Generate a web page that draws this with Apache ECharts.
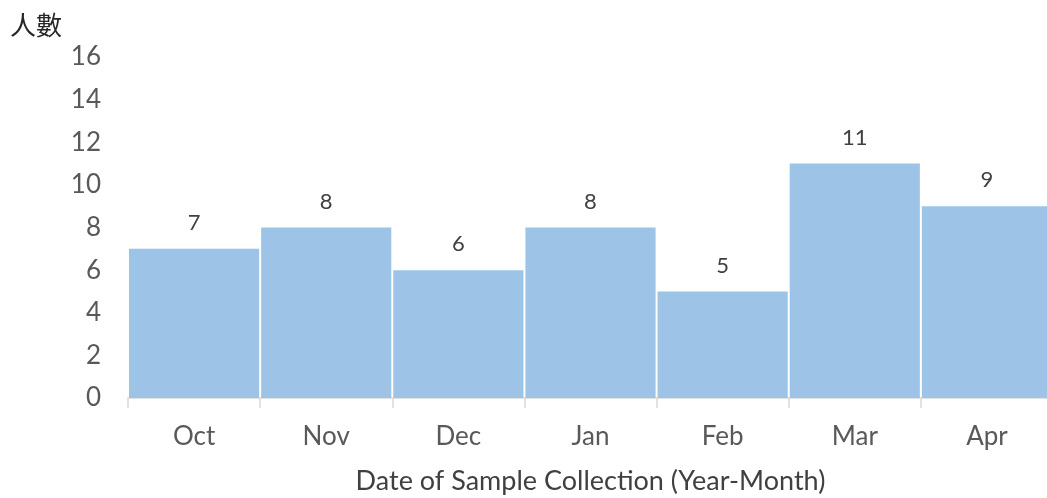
<!DOCTYPE html>
<html>
<head>
<meta charset="utf-8">
<script src="https://cdn.jsdelivr.net/npm/echarts@6/dist/echarts.min.js"></script>
<style>
  html, body { margin: 0; padding: 0; background: #fff; overflow: hidden; }
  #chart { width: 1047px; height: 498px; }
</style>
</head>
<body>
<div id="chart"></div>
<script>
// 月份 + 人數
var months = ['Oct', 'Nov', 'Dec', 'Jan', 'Feb', 'Mar', 'Apr'];
var counts = [7, 8, 6, 8, 5, 11, 9];
var yTicks = [0, 2, 4, 6, 8, 10, 12, 14, 16];

var myChart = echarts.init(document.getElementById('chart'));
var option = {
  animation: false,
  textStyle: { fontFamily: 'Lato, "Noto Sans", sans-serif' },
  grid: {
    left: 128,
    top: 57,
    width: 925,   // 最後一欄被裁掉
    height: 341,
    outerBoundsMode: 'none'
  },
  xAxis: {
    type: 'category',
    data: months,
    name: 'Date of Sample Collection (Year-Month)',
    nameLocation: 'middle',
    nameGap: 70,
    nameTextStyle: { fontSize: 27, color: '#404040', verticalAlign: 'top' },
    axisLine: { lineStyle: { color: '#D9D9D9', width: 1.5 } },
    axisTick: { show: true, length: 10, lineStyle: { color: '#D9D9D9', width: 1.5 } },
    axisLabel: { fontSize: 26, color: '#595959', margin: 26 }
  },
  yAxis: {
    type: 'value',
    min: yTicks[0],
    max: yTicks[yTicks.length - 1],
    interval: 2,
    name: '人數',
    nameLocation: 'end',
    nameGap: 0,
    nameTextStyle: {
      fontFamily: '"Noto Sans CJK TC", sans-serif',
      fontSize: 26,
      color: '#262626',
      align: 'left',
      padding: [0, 0, 19, -118]
    },
    axisLine: { show: false },
    axisTick: { show: false },
    splitLine: { show: false },
    axisLabel: { fontSize: 26, color: '#595959', margin: 27 }
  },
  series: [
    {
      type: 'bar',
      data: counts,
      barCategoryGap: '1.5%',
      itemStyle: { color: '#9DC3E6' },
      label: {
        show: true,
        position: 'top',
        distance: 15,
        fontSize: 22,
        color: '#404040'
      }
    }
  ]
};
myChart.setOption(option);
</script>
</body>
</html>
